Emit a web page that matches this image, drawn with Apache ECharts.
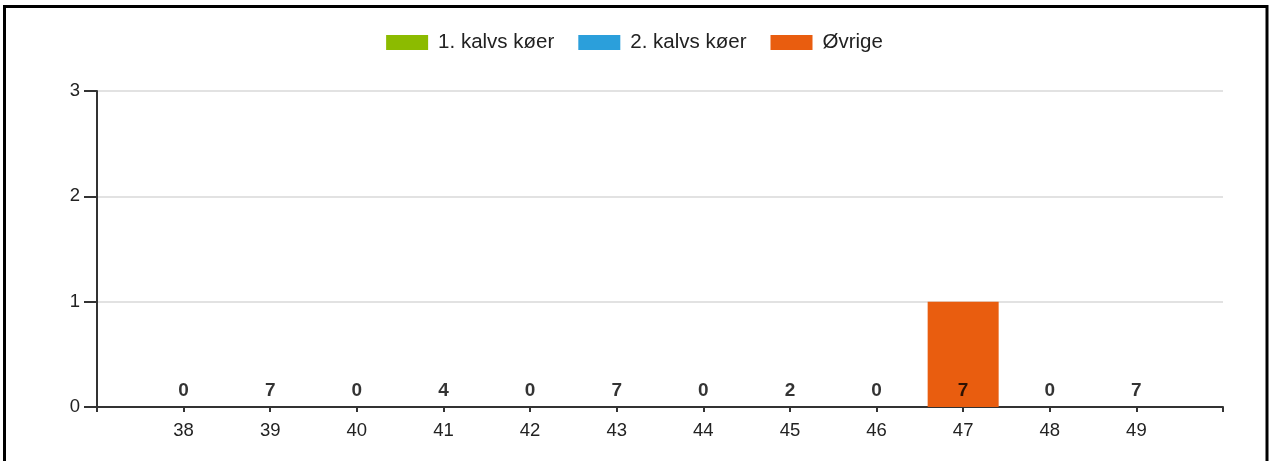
<!DOCTYPE html>
<html>
<head>
<meta charset="utf-8">
<script src="https://cdn.jsdelivr.net/npm/echarts@6/dist/echarts.min.js"></script>
<style>
	html, body { margin: 0; padding: 0; background: #fff; }
	#chart { width: 1269px; height: 461px; }
</style>
</head>
<body>
<div id="chart"></div>
<script>
	// uger
	var weeks = [38, 39, 40, 41, 42, 43, 44, 45, 46, 47, 48, 49];
	// serier
	var kalv1 = [0, 0, 0, 0, 0, 0, 0, 0, 0, 0, 0, 0];
	var kalv2 = [0, 0, 0, 0, 0, 0, 0, 0, 0, 0, 0, 0];
	var ovrige = [0, 0, 0, 0, 0, 0, 0, 0, 0, 1, 0, 0];
	// tal over aksen
	var topLabels = [0, 7, 0, 4, 0, 7, 0, 2, 0, 7, 0, 7];
	var yTicks = [0, 1, 2, 3];

	var font = 'Liberation Sans, Arial, sans-serif';

	function pairs(vals){
		return weeks.map(function(w, i){ return [w, vals[i]]; });
	}

	function barSeries(name, vals, color){
		return {
			name: name,
			type: 'bar',
			stack: 'total',
			barWidth: 71,
			data: pairs(vals),
			itemStyle: { color: color },
			emphasis: { disabled: true }
		};
	}

	var chart = echarts.init(document.getElementById('chart'));
	chart.setOption({
		animation: false,
		textStyle: { fontFamily: font },
		graphic: [{
			type: 'rect',
			silent: true,
			shape: { x: 4.5, y: 6.5, width: 1262.5, height: 480 },
			style: { fill: 'none', stroke: '#000', lineWidth: 3 }
		}],
		legend: {
			top: 27,
			left: 'center',
			itemWidth: 42,
			itemHeight: 15,
			itemGap: 24,
			icon: 'rect',
			data: ['1. kalvs køer', '2. kalvs køer', 'Øvrige'],
			textStyle: { fontSize: 20.5, color: '#222', fontFamily: font, padding: [0, 0, 0, 5] }
		},
		grid: { left: 97, right: 46, top: 91, bottom: 54 },
		xAxis: {
			type: 'value',
			min: weeks[0] - 1,
			max: weeks[weeks.length - 1] + 1,
			interval: 1,
			splitLine: { show: false },
			axisLine: { lineStyle: { color: '#333', width: 2 } },
			axisTick: { length: 5, lineStyle: { color: '#333', width: 2 } },
			axisLabel: {
				margin: 14,
				fontSize: 18.5,
				color: '#222',
				formatter: function(v){
					return weeks.indexOf(v) >= 0 ? String(v) : '';
				}
			}
		},
		yAxis: {
			type: 'value',
			min: yTicks[0],
			max: yTicks[yTicks.length - 1],
			interval: 1,
			axisLine: { show: true, lineStyle: { color: '#333', width: 2 } },
			axisTick: { show: true, length: 13, lineStyle: { color: '#333', width: 2 } },
			splitLine: { lineStyle: { color: '#e2e2e2', width: 2 } },
			axisLabel: { margin: 17, fontSize: 18.5, color: '#222' }
		},
		series: [
			barSeries('1. kalvs køer', kalv1, '#8cbb00'),
			barSeries('2. kalvs køer', kalv2, '#2b9fdb'),
			barSeries('Øvrige', ovrige, '#e95d0f'),
			{
				name: 'labels',
				type: 'scatter',
				symbolSize: 0,
				silent: true,
				z: 5,
				data: weeks.map(function(w){ return [w, 0]; }),
				label: {
					show: true,
					position: 'top',
					distance: 7,
					fontSize: 19,
					fontWeight: 'bold',
					color: '#000',
					formatter: function(p){ return String(topLabels[p.dataIndex]); }
				}
			}
		]
	});
</script>
</body>
</html>
